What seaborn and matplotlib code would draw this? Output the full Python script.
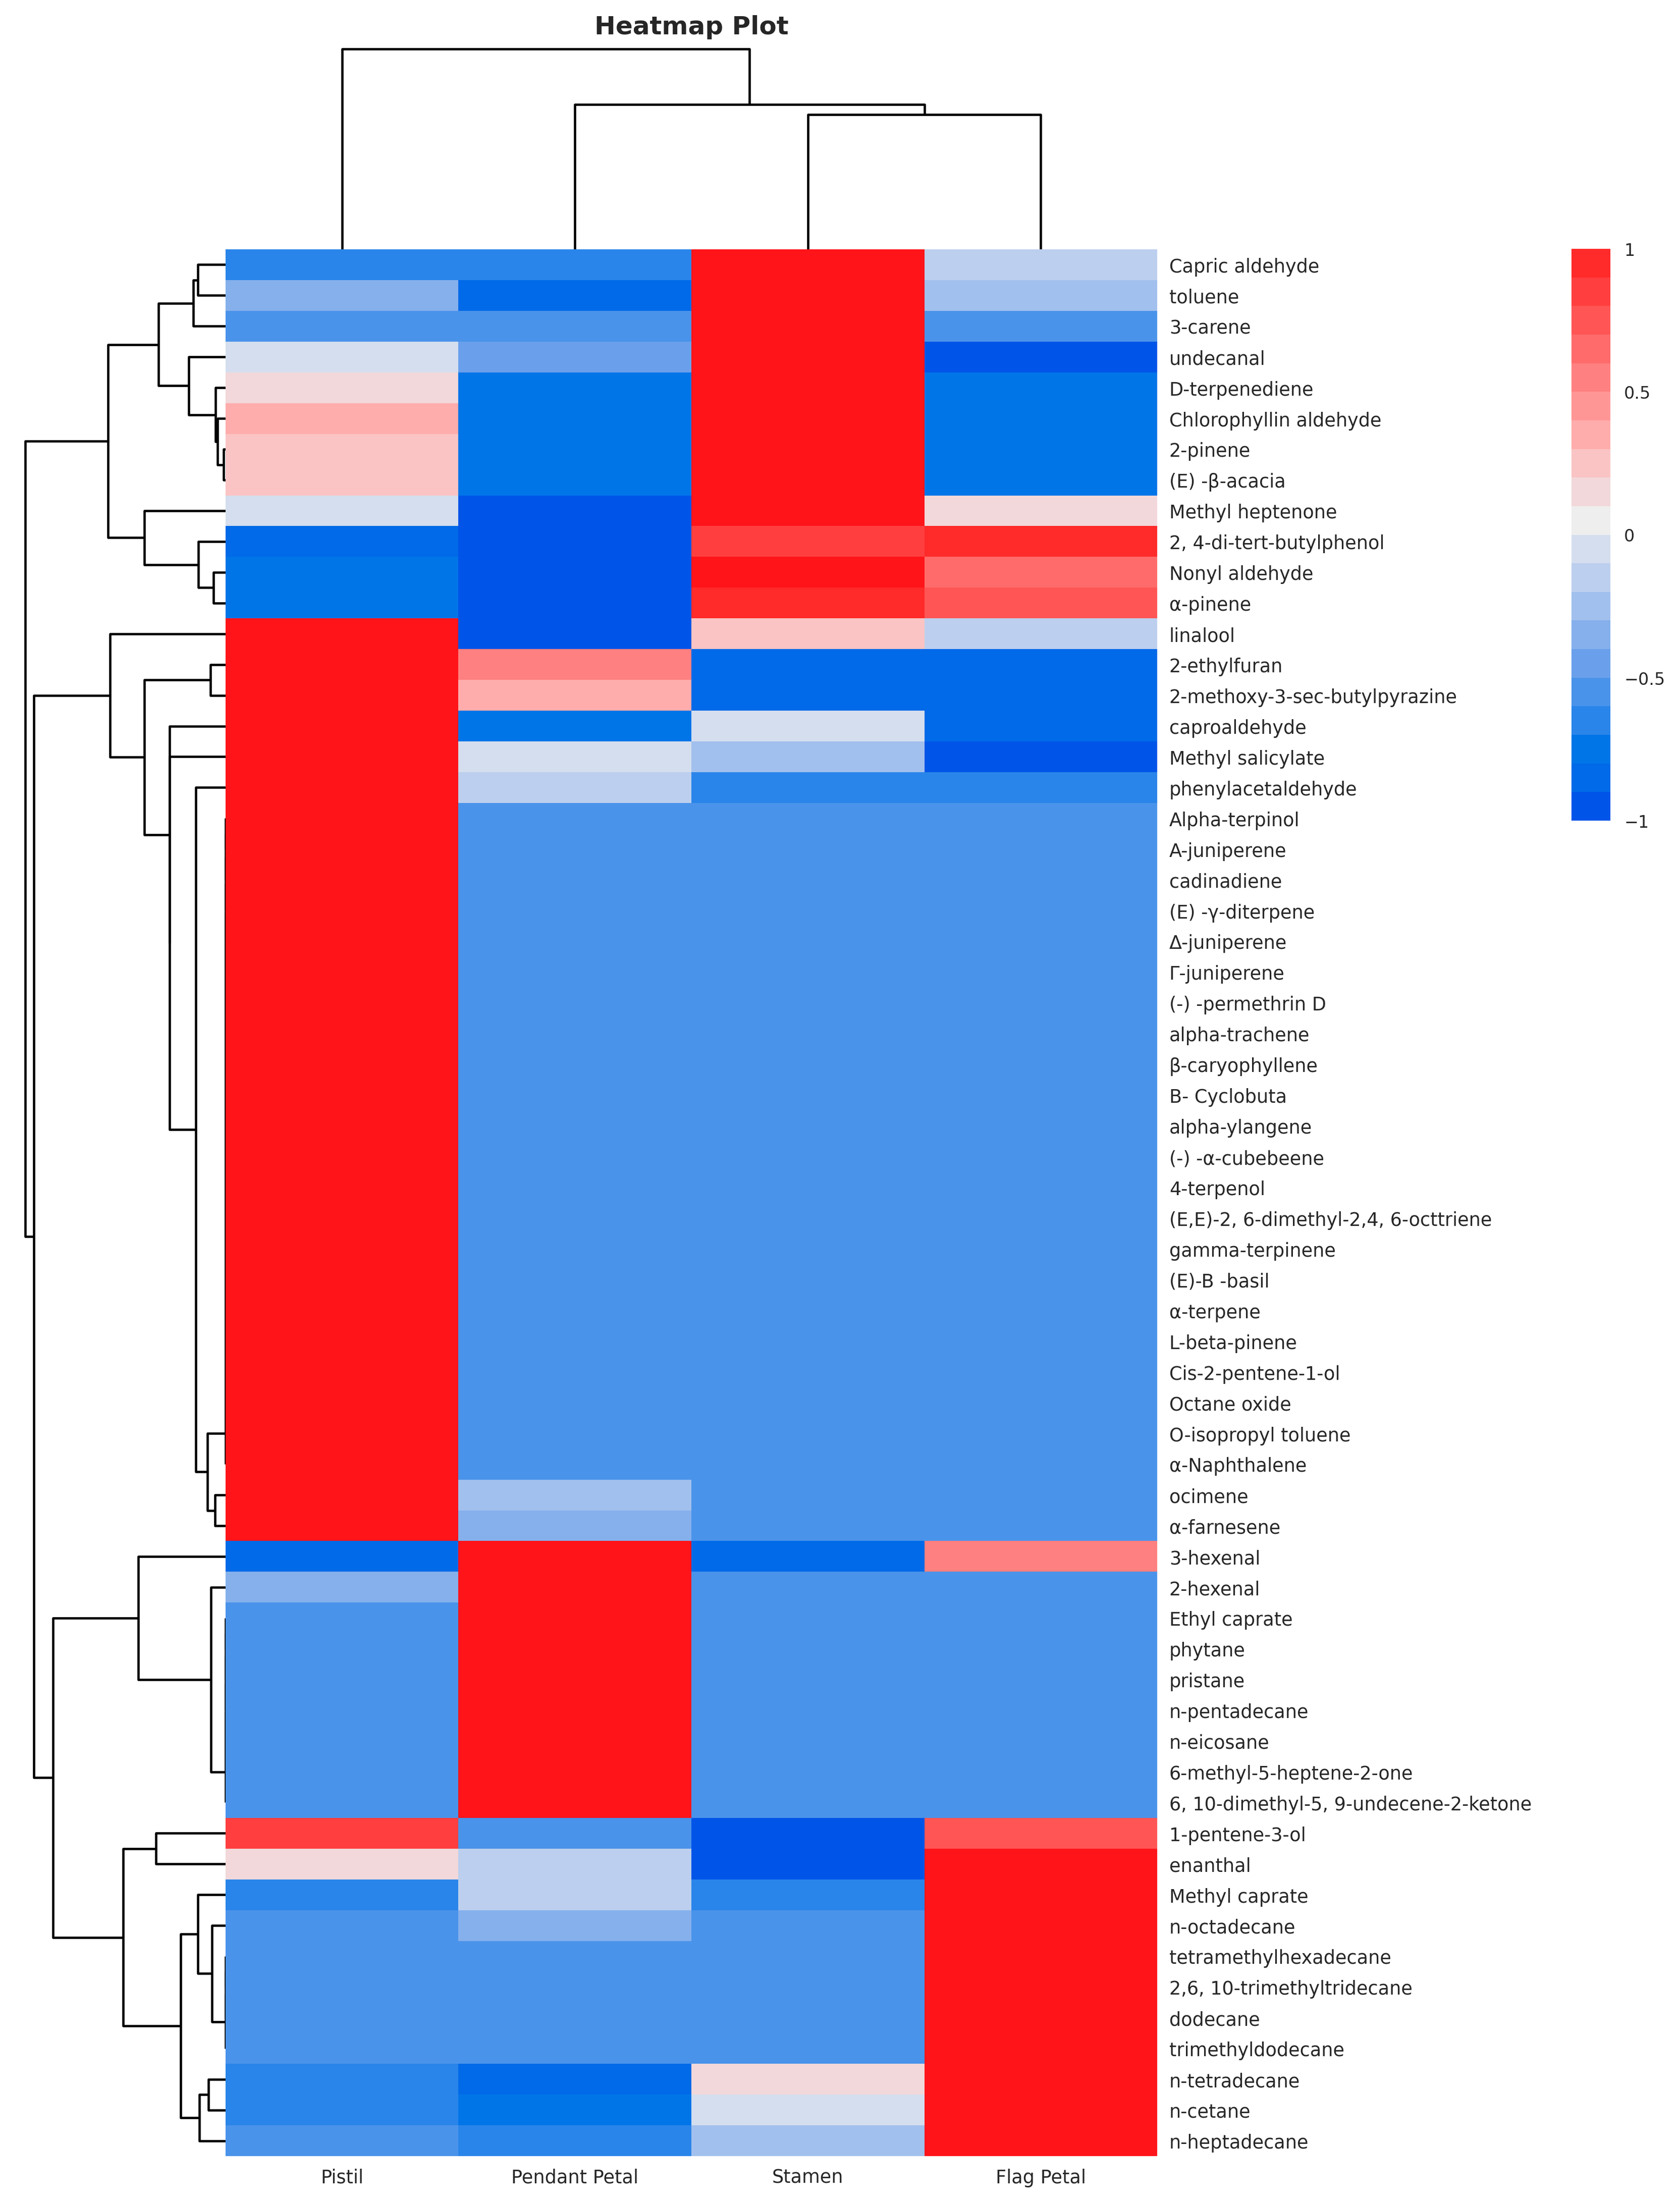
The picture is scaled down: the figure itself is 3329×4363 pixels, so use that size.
import numpy as np
import pandas as pd
import matplotlib
matplotlib.use("Agg")
import matplotlib.pyplot as plt
from matplotlib.colors import ListedColormap
import seaborn as sns

# compounds in the order they appear on the chart (top to bottom)
compounds = [
    "Capric aldehyde", "toluene", "3-carene", "undecanal", "D-terpenediene",
    "Chlorophyllin aldehyde", "2-pinene", "(E) -β-acacia", "Methyl heptenone",
    "2, 4-di-tert-butylphenol", "Nonyl aldehyde", "α-pinene", "linalool",
    "2-ethylfuran", "2-methoxy-3-sec-butylpyrazine", "caproaldehyde",
    "Methyl salicylate", "phenylacetaldehyde", "Alpha-terpinol", "A-juniperene",
    "cadinadiene", "(E) -γ-diterpene", "Δ-juniperene", "Γ-juniperene",
    "(-) -permethrin D", "alpha-trachene", "β-caryophyllene", "B- Cyclobuta",
    "alpha-ylangene", "(-) -α-cubebeene", "4-terpenol",
    "(E,E)-2, 6-dimethyl-2,4, 6-octtriene", "gamma-terpinene", "(E)-B -basil",
    "α-terpene", "L-beta-pinene", "Cis-2-pentene-1-ol", "Octane oxide",
    "O-isopropyl toluene", "α-Naphthalene", "ocimene", "α-farnesene",
    "3-hexenal", "2-hexenal", "Ethyl caprate", "phytane", "pristane",
    "n-pentadecane", "n-eicosane", "6-methyl-5-heptene-2-one",
    "6, 10-dimethyl-5, 9-undecene-2-ketone", "1-pentene-3-ol", "enanthal",
    "Methyl caprate", "n-octadecane", "tetramethylhexadecane",
    "2,6, 10-trimethyltridecane", "dodecane", "trimethyldodecane",
    "n-tetradecane", "n-cetane", "n-heptadecane",
]
tissues = ["Pistil", "Pendant Petal", "Stamen", "Flag Petal"]

# scaled values (values beyond +-1 are estimates)
pistil = [
    -0.65, -0.35, -0.51, -0.05, 0.15, 0.35, 0.25, 0.23, -0.05, -0.86,
    -0.75, -0.72, 1.04, 1.15, 1.26, 1.60, 1.35, 1.45,
    1.53, 1.53, 1.53, 1.53, 1.53, 1.53, 1.53, 1.53, 1.53, 1.53, 1.53,
    1.53, 1.53, 1.53, 1.53, 1.53, 1.53, 1.53, 1.53, 1.53, 1.53, 1.53,
    1.43, 1.53, -0.85, -0.35,
    -0.51, -0.51, -0.51, -0.51, -0.51, -0.51, -0.51,
    0.88, 0.15, -0.65, -0.57, -0.51, -0.51, -0.51, -0.51, -0.65, -0.65, -0.55,
]
pendant_petal = [
    -0.65, -0.85, -0.51, -0.45, -0.75, -0.79, -0.78, -0.77, -1.35, -0.90,
    -1.10, -1.10, -1.60, 0.55, 0.38, -0.72, -0.05, -0.15,
    -0.51, -0.51, -0.51, -0.51, -0.51, -0.51, -0.51, -0.51, -0.51, -0.51, -0.51,
    -0.51, -0.51, -0.51, -0.51, -0.51, -0.51, -0.51, -0.51, -0.51, -0.51, -0.51,
    -0.25, -0.35, 1.10, 1.15,
    1.15, 1.15, 1.15, 1.15, 1.15, 1.15, 1.15,
    -0.58, -0.15, -0.15, -0.35, -0.51, -0.51, -0.51, -0.51, -0.85, -0.75, -0.65,
]
stamen = [
    1.52, 1.52, 1.53, 1.50, 1.52, 1.52, 1.52, 1.52, 1.35, 0.83,
    1.05, 0.92, 0.25, -0.85, -0.82, -0.05, -0.25, -0.65,
    -0.51, -0.51, -0.51, -0.51, -0.51, -0.51, -0.51, -0.51, -0.51, -0.51, -0.51,
    -0.51, -0.51, -0.51, -0.51, -0.51, -0.51, -0.51, -0.51, -0.51, -0.51, -0.51,
    -0.59, -0.59, -0.85, -0.59,
    -0.51, -0.51, -0.51, -0.51, -0.51, -0.51, -0.51,
    -1.00, -1.10, -0.65, -0.57, -0.51, -0.51, -0.51, -0.51, 0.15, -0.05, -0.25,
]
flag_petal = [
    -0.15, -0.25, -0.51, -1.00, -0.75, -0.79, -0.78, -0.77, 0.15, 0.93,
    0.65, 0.75, -0.15, -0.85, -0.82, -0.83, -1.05, -0.65,
    -0.51, -0.51, -0.51, -0.51, -0.51, -0.51, -0.51, -0.51, -0.51, -0.51, -0.51,
    -0.51, -0.51, -0.51, -0.51, -0.51, -0.51, -0.51, -0.51, -0.51, -0.51, -0.51,
    -0.59, -0.59, 0.55, -0.59,
    -0.51, -0.51, -0.51, -0.51, -0.51, -0.51, -0.51,
    0.70, 1.10, 1.15, 1.15, 1.15, 1.15, 1.15, 1.15, 1.10, 1.15, 1.15,
]

# 20 colour steps from -1 to 1
level_colors = [
    "#0055e8", "#006ae8", "#0075e8", "#2a85ea", "#4a93ea", "#6aa0eb",
    "#85b0ec", "#a2c0ed", "#bccfee", "#d4deee", "#eeeeee", "#f2d8da",
    "#fac4c4", "#ffacac", "#ff9696", "#ff8080", "#ff6b6b", "#ff5555",
    "#ff3f3f", "#ff2a2a",
]


def ordered_linkage(values):
    """Average linkage (euclidean) where only neighbouring groups may merge,
    so the leaves keep the order of the input rows."""
    values = np.asarray(values, dtype=float)
    n = len(values)
    dist = np.sqrt(((values[:, None, :] - values[None, :, :]) ** 2).sum(-1))
    groups = [[i] for i in range(n)]
    ids = list(range(n))
    heights = [0.0] * n
    rows = []
    next_id = n
    while len(groups) > 1:
        best = None
        for k in range(len(groups) - 1):
            d = dist[np.ix_(groups[k], groups[k + 1])].mean()
            if best is None or d < best[0]:
                best = (d, k)
        d, k = best
        d = max(d, heights[k], heights[k + 1])
        rows.append([ids[k], ids[k + 1], d, len(groups[k]) + len(groups[k + 1])])
        groups[k] = groups[k] + groups.pop(k + 1)
        ids[k] = next_id
        ids.pop(k + 1)
        heights[k] = d
        heights.pop(k + 1)
        next_id += 1
    return np.array(rows, dtype=float)


df = pd.DataFrame(
    {"Pistil": pistil, "Pendant Petal": pendant_petal,
     "Stamen": stamen, "Flag Petal": flag_petal},
    index=compounds,
)[tissues]

cmap = ListedColormap(level_colors)
cmap.set_over("#ff141a")
cmap.set_under("#0055e8")

sns.set_style("white")

row_link = ordered_linkage(df.values)
col_link = ordered_linkage(df.values.T)

g = sns.clustermap(
    df,
    row_linkage=row_link,
    col_linkage=col_link,
    cmap=cmap,
    vmin=-1, vmax=1,
    figsize=(3309 / 300, 4374 / 300),
    dendrogram_ratio=(0.18, 0.1),
    cbar_pos=(0.9405, 0.6276, 0.0233, 0.259),
    cbar_kws={"ticks": [-1, -0.5, 0, 0.5, 1]},
    xticklabels=True, yticklabels=True,
    tree_kws={"linewidths": 1.1, "colors": "black"},
)

# place the panels like the original figure
g.ax_heatmap.set_position([0.1345, 0.0226, 0.5579, 0.8638])
g.ax_row_dendrogram.set_position([0.0085, 0.0226, 0.1260, 0.8638])
g.ax_col_dendrogram.set_position([0.1345, 0.8864, 0.5579, 0.0953])
g.ax_cbar.set_position([0.9405, 0.6276, 0.0233, 0.259])

g.ax_heatmap.set_xlabel("")
g.ax_heatmap.set_ylabel("")
g.ax_heatmap.tick_params(axis="both", length=0, labelsize=8.8, pad=5.7)
plt.setp(g.ax_heatmap.get_xticklabels(), rotation=0)
plt.setp(g.ax_heatmap.get_yticklabels(), rotation=0)

g.ax_cbar.set_yticklabels(["\u22121", "\u22120.5", "0", "0.5", "1"])
g.ax_cbar.tick_params(length=0, labelsize=8, pad=6.5)

g.ax_col_dendrogram.set_title("Heatmap Plot", fontsize=12, fontweight="bold", pad=2)

g.savefig("out.png", dpi=300)
